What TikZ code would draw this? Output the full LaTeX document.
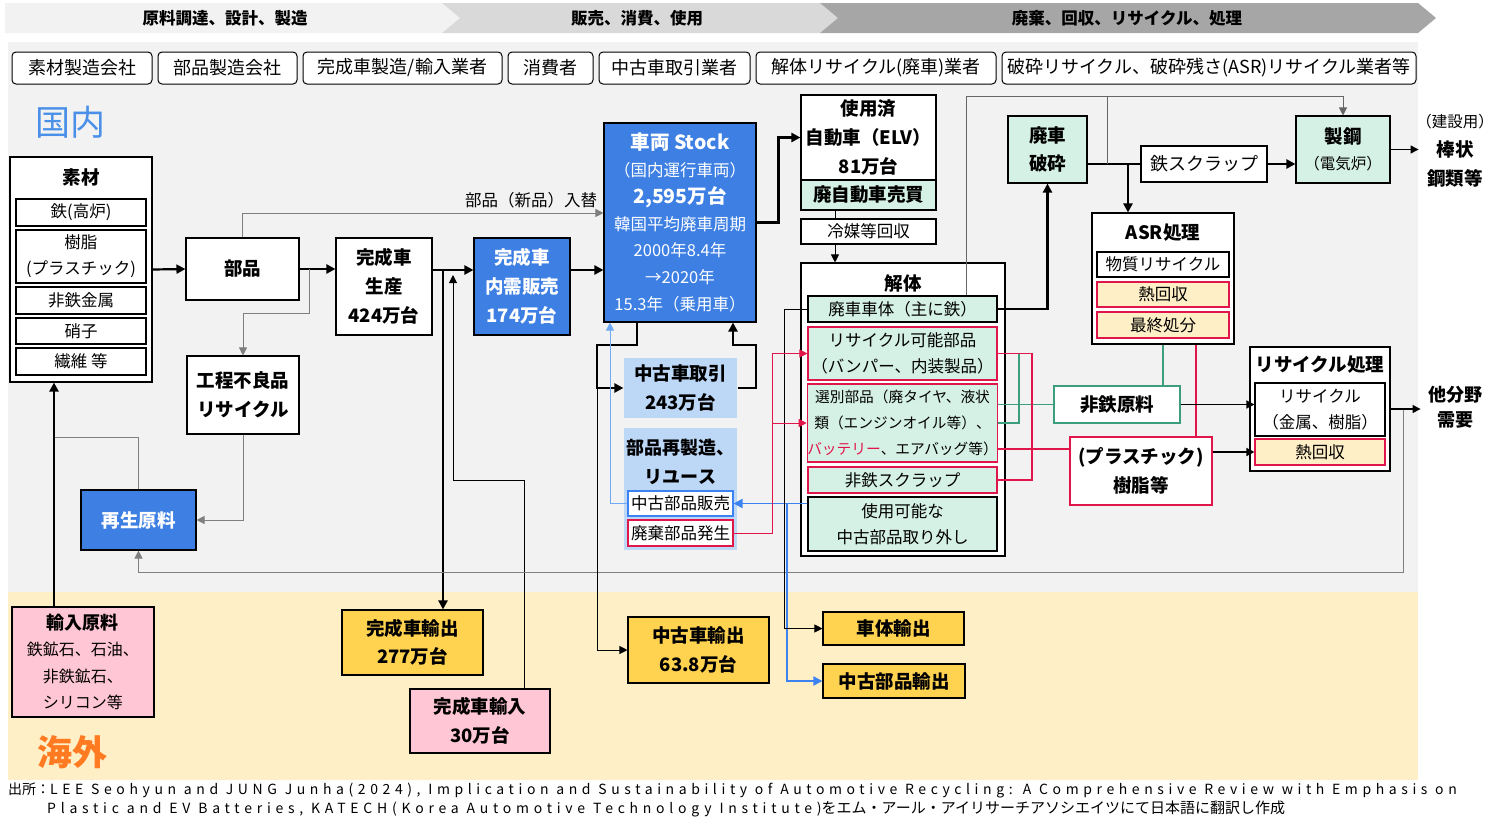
\documentclass[tikz,border=0pt]{standalone}
\usepackage{fontspec}
\setmainfont{Noto Sans CJK JP}
\newfontfamily\srcfont{Noto Sans CJK JP}[LetterSpace=34]
\newfontfamily\srcfontA{Noto Sans CJK JP}[LetterSpace=32.8]
\newfontfamily\srcjp{Noto Sans CJK JP}
\usepackage{tikz}
\usetikzlibrary{arrows.meta, positioning}
\definecolor{hdrA}{HTML}{F2F2F2}
\definecolor{hdrB}{HTML}{D9D9D9}
\definecolor{hdrC}{HTML}{A6A6A6}
\definecolor{panelC}{HTML}{F2F2F2}
\definecolor{abroadC}{HTML}{FFEFC6}
\definecolor{blueC}{HTML}{3D7FE3}
\definecolor{lblueC}{HTML}{BDD7F7}
\definecolor{mintC}{HTML}{D5F0E4}
\definecolor{heatC}{HTML}{FFEFC6}
\definecolor{orangeC}{HTML}{FFD24F}
\definecolor{pinkC}{HTML}{FFC6D5}
\definecolor{redC}{HTML}{E0154A}
\definecolor{greenC}{HTML}{3C9E7A}
\definecolor{grayC}{HTML}{7F7F7F}
\definecolor{lineblueC}{HTML}{3C82F0}
\definecolor{thinblueC}{HTML}{6FA8F5}
\definecolor{naiC}{HTML}{4A90E8}
\definecolor{kaiC}{HTML}{FF7A21}

\begin{document}
\begin{tikzpicture}[
                x=1pt, y=-1pt,
                actor/.style={draw, line width=1pt, rounded corners=4pt, fill=white, minimum height=32, inner sep=0pt, font=\fontsize{18}{20}\selectfont},
                box/.style={draw, line width=1.1pt, fill=white, inner sep=0pt, align=center, font=\bfseries\fontsize{18.5}{29}\selectfont},
                inner/.style={draw, line width=1.1pt, fill=white, inner sep=0pt, align=center, font=\fontsize{16.5}{26}\selectfont},
                title/.style={inner sep=0pt, align=center, font=\bfseries\fontsize{18.5}{29}\selectfont},
                flow/.style={draw, line width=2.2pt, -{Triangle[length=9pt,width=9pt]}},
                thickline/.style={draw, line width=2.2pt},
                medflow/.style={draw, line width=1.3pt, -{Triangle[length=8pt,width=8pt]}},
                thinflow/.style={draw, line width=0.9pt, -{Triangle[length=8pt,width=8pt]}},
                grayflow/.style={draw=grayC, line width=1pt, -{Triangle[length=8pt,width=8pt]}},
                grayline/.style={draw=grayC, line width=1pt},
                redline/.style={draw=redC, line width=1.8pt},
                redflow/.style={draw=redC, line width=0.9pt, -{Triangle[length=8pt,width=8pt]}},
                greenline/.style={draw=greenC, line width=1.8pt},
                blueflow/.style={draw=lineblueC, line width=1.8pt, -{Triangle[length=9pt,width=9pt]}},
                lblueflow/.style={draw=thinblueC, line width=0.9pt, -{Triangle[length=8pt,width=8pt]}}
            ]
                \useasboundingbox (0,0) rectangle (1500,828);

                % --- KOPFZEILE ---
                \fill[hdrA] (5,3) -- (442,3) -- (460,18) -- (442,33) -- (5,33) -- cycle;
                \fill[hdrB] (442,3) -- (820,3) -- (838,18) -- (820,33) -- (442,33) -- (460,18) -- cycle;
                \fill[hdrC] (820,3) -- (1418,3) -- (1436,18) -- (1418,33) -- (820,33) -- (838,18) -- cycle;
                \node[font=\bfseries\fontsize{16.5}{18}\selectfont] (stage1) at (225,18) {原料調達、設計、製造};
                \node[font=\bfseries\fontsize{16.5}{18}\selectfont] (stage2) at (637,18) {販売、消費、使用};
                \node[font=\bfseries\fontsize{16.5}{18}\selectfont] (stage3) at (1127,18) {廃棄、回収、リサイクル、処理};

                % --- FLAECHEN ---
                \fill[panelC] (8,42) rectangle (1418,592);
                \fill[abroadC] (8,592) rectangle (1418,780);

                % --- AKTEURE ---
                \node[actor, minimum width=140] (mkSozai) at (82,68) {素材製造会社};
                \node[actor, minimum width=139] (mkBuhin) at (227.5,68) {部品製造会社};
                \node[actor, minimum width=199] (mkCar) at (402.5,68) {完成車製造/輸入業者};
                \node[actor, minimum width=85] (consumer) at (550.5,68) {消費者};
                \node[actor, minimum width=151] (dealer) at (674.5,68) {中古車取引業者};
                \node[actor, minimum width=240] (dismantler) at (876,68) {解体リサイクル(廃車)業者};
                \node[actor, minimum width=414] (shredder) at (1209,68) {破砕リサイクル、破砕残さ(ASR)リサイクル業者等};

                \node[text=naiC, font=\fontsize{35}{35}\selectfont] (domestic) at (70,122) {国内};
                \node[text=kaiC, font=\bfseries\fontsize{35}{35}\selectfont] (overseas) at (72,752) {海外};

                % --- SOZAI ---
                \node[box, minimum width=142, minimum height=225] (sozai) at (81,269.5) {};
                \node[title] (sozaiT) at (81,177) {素材};
                \node[inner, minimum width=130, minimum height=27] (iron) at (81,212.5) {鉄(高炉)};
                \node[inner, minimum width=130, minimum height=53] (resin) at (81,256.5) {樹脂\\(プラスチック)};
                \node[inner, minimum width=130, minimum height=27] (nonfer) at (81,300.5) {非鉄金属};
                \node[inner, minimum width=130, minimum height=26] (glass) at (81,331) {硝子};
                \node[inner, minimum width=130, minimum height=27] (fiber) at (81,361.5) {繊維 等};

                \node[box, minimum width=113, minimum height=62] (buhin) at (242.5,269) {部品};
                \node[box, minimum width=112, minimum height=78] (furyou) at (243,395) {工程不良品\\リサイクル};
                \node[box, fill=blueC, text=white, minimum width=115, minimum height=60] (saisei) at (138.5,520) {再生原料};

                \node[box, minimum width=96, minimum height=97] (seisan) at (384,286.5) {完成車\\生産\\424万台};
                \node[box, fill=blueC, text=white, minimum width=96, minimum height=97] (naiju) at (522,286.5) {完成車\\内需販売\\174万台};
                \node[font=\fontsize{16.5}{20}\selectfont] (newparts) at (531,200) {部品（新品）入替};

                % --- STOCK ---
                \node[box, fill=blueC, text=white, minimum width=152, minimum height=199, font=\fontsize{16.5}{26.8}\selectfont] (stock) at (680,222.5)
                    {{\bfseries\fontsize{19.5}{26.8}\selectfont 車両 Stock}\\（国内運行車両）\\{\bfseries\fontsize{19.5}{26.8}\selectfont 2,595万台}\\韓国平均廃車周期\\2000年8.4年\\→2020年\\15.3年（乗用車）};
                \node[box, draw=none, fill=lblueC, minimum width=113, minimum height=60] (chuko) at (680.5,388) {中古車取引\\243万台};
                \node[box, draw=none, fill=lblueC, minimum width=113, minimum height=122] (reuse) at (680.5,489) {};
                \node[title, font=\bfseries\fontsize{18}{29}\selectfont] (reuseT) at (680.5,461.5) {部品再製造、\\リユース};
                \node[inner, draw=lineblueC, minimum width=105, minimum height=25] (usedsale) at (680.5,503.5) {中古部品販売};
                \node[inner, draw=redC, minimum width=105, minimum height=26] (waste) at (680.5,533) {廃棄部品発生};

                % --- ELV / KAITAI ---
                \node[box, minimum width=135, minimum height=85] (elv) at (868.5,137.5) {使用済\\自動車（ELV）\\81万台};
                \node[box, fill=mintC, minimum width=135, minimum height=30] (haibai) at (868.5,195) {廃自動車売買};
                \node[inner, minimum width=135, minimum height=25] (reibai) at (868.5,231.5) {冷媒等回収};
                \node[box, minimum width=204, minimum height=293] (kaitai) at (903,409.5) {};
                \node[title] (kaitaiT) at (903,283) {解体};
                \node[inner, fill=mintC, minimum width=189, minimum height=26] (body) at (902.5,309) {廃車車体（主に鉄）};
                \node[inner, fill=mintC, draw=redC, minimum width=189, minimum height=53] (recparts) at (902.5,353.5) {リサイクル可能部品\\（バンパー、内装製品）};
                \node[inner, fill=mintC, draw=redC, minimum width=189, minimum height=78, font=\fontsize{14.7}{26}\selectfont] (selparts) at (902.5,423)
                    {選別部品（廃タイヤ、液状\\類（エンジンオイル等）、\\\textcolor{redC}{バッテリー}、エアバッグ等）};
                \node[inner, fill=mintC, draw=redC, minimum width=189, minimum height=26] (nfscrap) at (902.5,480) {非鉄スクラップ};
                \node[inner, fill=mintC, minimum width=189, minimum height=54] (usable) at (902.5,524) {使用可能な\\中古部品取り外し};

                % --- SHREDDER / STAHL ---
                \node[box, fill=mintC, minimum width=79, minimum height=67, font=\bfseries\fontsize{18.5}{28}\selectfont] (haisha) at (1047.5,149.5) {廃車\\破砕};
                \node[inner, minimum width=126, minimum height=36, font=\fontsize{18}{20}\selectfont] (tetsu) at (1204,164) {鉄スクラップ};
                \node[box, fill=mintC, minimum width=94, minimum height=67, font=\bfseries\fontsize{18.5}{26}\selectfont] (seikou) at (1343,149.5) {製鋼\\{\mdseries\fontsize{15.5}{26}\selectfont（電気炉）}};
                \node[title] (rebar) at (1455,151) {{\mdseries\fontsize{15.5}{29}\selectfont（建設用）}\\棒状\\鋼類等};

                \node[box, minimum width=142, minimum height=131] (asr) at (1163,278.5) {};
                \node[title] (asrT) at (1163,233) {ASR処理};
                \node[inner, minimum width=132, minimum height=25] (matrec) at (1163,264.5) {物質リサイクル};
                \node[inner, fill=heatC, draw=redC, minimum width=132, minimum height=25] (heatA) at (1163,294.5) {熱回収};
                \node[inner, fill=heatC, draw=redC, minimum width=132, minimum height=26] (landfill) at (1163,325) {最終処分};

                \node[box, draw=greenC, minimum width=126, minimum height=37] (hitetsu) at (1117,404.5) {非鉄原料};
                \node[box, draw=redC, minimum width=142, minimum height=68] (plastic) at (1141,471) {(プラスチック)\\樹脂等};

                \node[box, minimum width=140, minimum height=124] (recyc) at (1320,409) {};
                \node[title] (recycT) at (1320,365) {リサイクル処理};
                \node[inner, minimum width=130, minimum height=53] (metres) at (1320,409.5) {リサイクル\\（金属、樹脂）};
                \node[inner, fill=heatC, draw=redC, minimum width=130, minimum height=26] (heatB) at (1320,452) {熱回収};
                \node[title, font=\bfseries\fontsize{18}{25}\selectfont] (demand) at (1455,407.5) {他分野\\需要};

                % --- AUSLAND ---
                \node[box, fill=pinkC, minimum width=142, minimum height=110, font=\fontsize{16}{26.5}\selectfont] (rawimp) at (83,662)
                    {{\bfseries\fontsize{18}{26.5}\selectfont 輸入原料}\\鉄鉱石、石油、\\非鉄鉱石、\\シリコン等};
                \node[box, fill=orangeC, minimum width=141, minimum height=65, font=\bfseries\fontsize{18.5}{28}\selectfont] (carexp) at (412.5,642.5) {完成車輸出\\277万台};
                \node[box, fill=pinkC, minimum width=140, minimum height=64] (carimp) at (480,721) {完成車輸入\\30万台};
                \node[box, fill=orangeC, minimum width=141, minimum height=66] (usedexp) at (698.5,650) {中古車輸出\\63.8万台};
                \node[box, fill=orangeC, minimum width=141, minimum height=33] (bodyexp) at (893.5,628.5) {車体輸出};
                \node[box, fill=orangeC, minimum width=142, minimum height=34] (partexp) at (894,681) {中古部品輸出};

                % --- QUELLE ---
                \node[anchor=west, inner sep=0pt, font=\srcfontA\fontsize{14}{16}\selectfont] (src1) at (8,790)
                    {{\srcjp 出所：}LEE Seohyun and JUNG Junha(2024), Implication and Sustainability of Automotive Recycling: A Comprehensive Review with Emphasis on};
                \node[anchor=west, inner sep=0pt, font=\srcfont\fontsize{14}{16}\selectfont] (src2) at (47,809)
                    {Plastic and EV Batteries, KATECH(Korea Automotive Technology Institute){\srcjp\fontsize{15}{16}\selectfont をエム・アール・アイリサーチアソシエイツにて日本語に翻訳し作成}};

                % --- VERBINDUNGEN ---
                \coordinate (j1) at (443,270);
                \coordinate (j2) at (309,269);
                \coordinate (j3) at (597,345);
                \coordinate (j4) at (1403,408);
                \draw[flow] (sozai.east) -- (buhin.west);
                \draw[flow] (buhin.east) -- (buhin.east -| seisan.west);
                \draw[flow] (seisan.east |- j1) -- (naiju.west |- j1);
                \draw[flow] (j1) -- (j1 |- carexp.north);
                \draw[thinflow] (carimp.north -| 524,0) |- (453,480) -- (453,275);
                \draw[flow] (naiju.east |- j1) -- (stock.west |- j1);
                \draw[grayflow] (buhin.north) |- (stock.west |- 0,213);
                \draw[grayflow] (j2) -- ++(0,44) -| (furyou.north);
                \draw[grayflow] (furyou.south) |- (saisei.east);
                \draw[grayline] (saisei.north) |- (54,437);
                \draw[flow] (rawimp.north -| 54,0) -- (sozai.south -| 54,0);
                \draw[grayflow] (j4) |- (saisei.south |- 0,572) -- (saisei.south);

                \draw[flow] (stock.east) -- ++(22,0) |- (elv.west);
                \draw[grayline, draw=black] (haibai.south -| 835,0) -- (reibai.north -| 835,0);
                \draw[thinflow] (reibai.south -| 835,0) -- (kaitai.north -| 835,0);
                \draw[flow] (stock.south -| 637,0) |- (j3) |- (chuko.west);
                \draw[flow] (chuko.east) -| (756,345) -| (stock.south -| 733,0);
                \draw[thinflow] (597,388) |- (usedexp.west);
                \draw[lblueflow] (usedsale.west) -| (stock.south -| 610,0);
                \draw[blueflow] (usable.west |- usedsale.east) -- (usedsale.east);
                \draw[blueflow] (787,503.5) |- (partexp.west);
                \draw[thinflow] (body.west) -- (body.west -| 784,0) |- (bodyexp.west);
                \draw[draw=redC, line width=0.9pt] (waste.east) -| (772,353.5);
                \draw[redflow] (772,353.5) -- (recparts.west);
                \draw[redflow] (772,423) -- (selparts.west);

                \draw[flow] (body.east) -| (haisha.south);
                \draw[thickline] (haisha.east |- tetsu.west) -- (tetsu.west);
                \draw[flow] (1128,164) -- (asr.north -| 1128,0);
                \draw[flow] (tetsu.east) -- (tetsu.east -| seikou.west);
                \draw[grayflow, draw=grayC!80!black] (body.north -| 966,0) -- (966,96) -| (seikou.north);
                \draw[grayline, draw=grayC!80!black] (1107,164) -- (1107,96);
                \draw[medflow] (seikou.east) -- ++(28,0);

                \draw[greenline] (asr.south -| 1163,0) -- (hitetsu.north -| 1163,0);
                \draw[redline] (asr.south -| 1196,0) -- (plastic.north -| 1196,0);
                \draw[greenline] (selparts.east |- hitetsu.west) -- (hitetsu.west);
                \draw[greenline] (selparts.east) -| (1019,353.5);
                \draw[redline] (recparts.east) -| (1032,480) -- (nfscrap.east);
                \draw[redline] (selparts.east |- 0,449) -- (plastic.west |- 0,449);
                \draw[medflow] (hitetsu.east) -- (metres.west |- hitetsu.east);
                \draw[medflow] (plastic.east |- heatB.west) -- (heatB.west);
                \draw[medflow] (recyc.east) -- ++(30,0);

            \end{tikzpicture}
\end{document}
